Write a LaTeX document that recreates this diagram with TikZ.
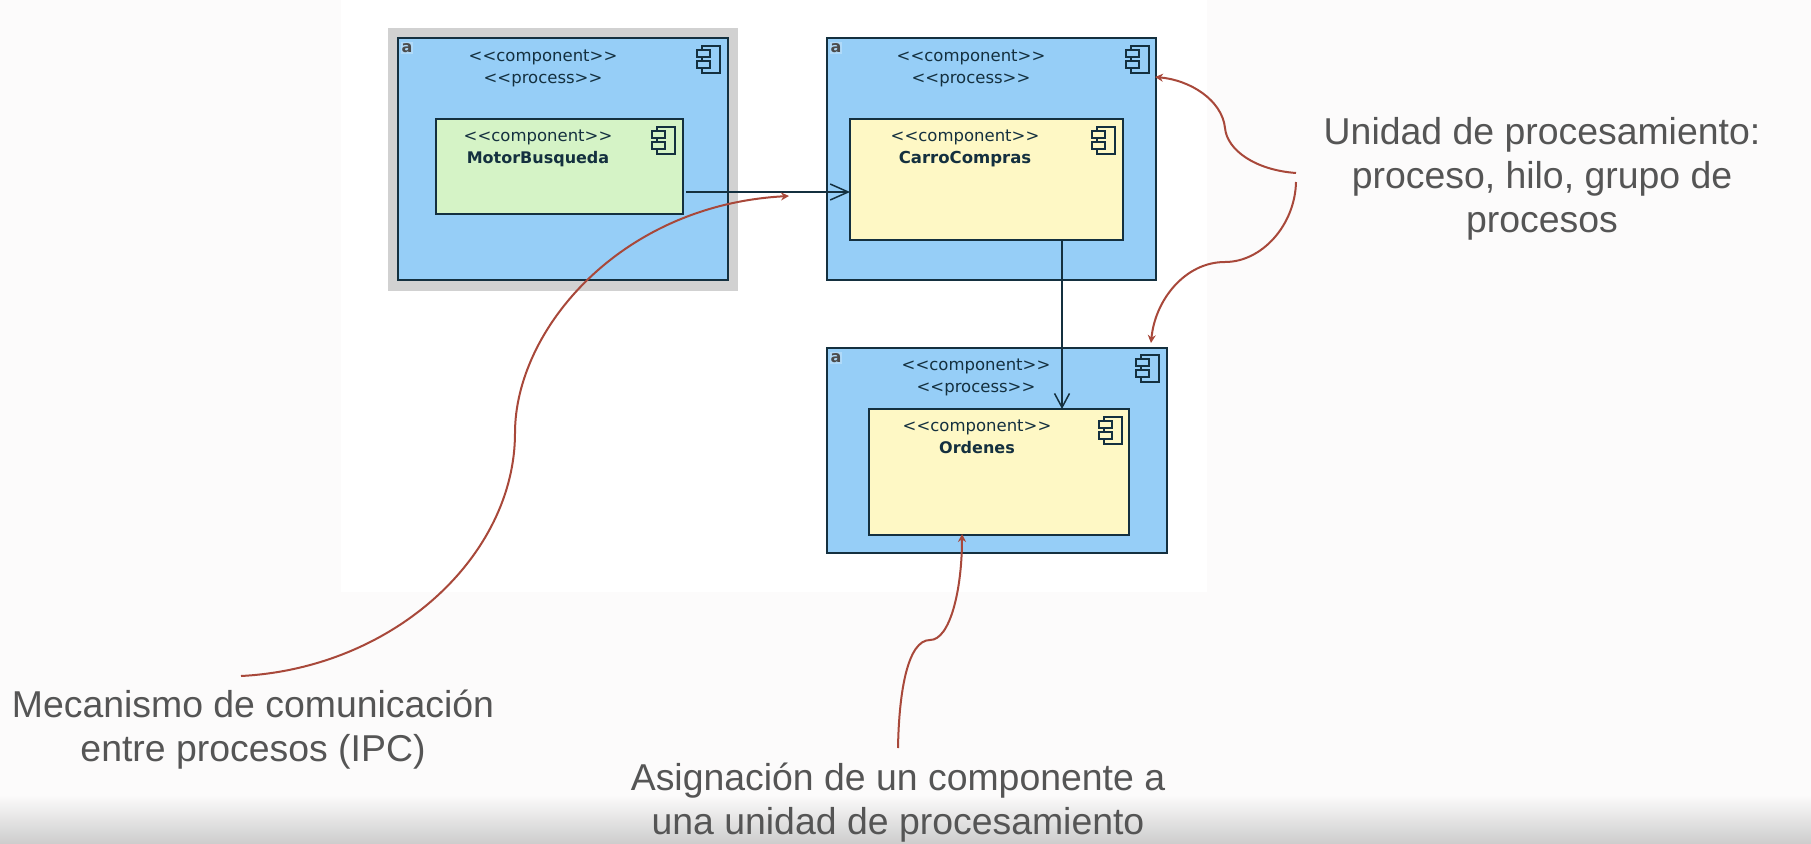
\documentclass[tikz,border=0pt]{standalone}
\usepackage{fontspec}
\newfontfamily\callfont{Liberation Sans}
\newfontfamily\umlfont{DejaVu Sans}
\usetikzlibrary{arrows.meta,positioning}
\definecolor{procblue}{HTML}{96CEF7}
\definecolor{compgreen}{HTML}{D5F3C6}
\definecolor{compyellow}{HTML}{FEF8C5}
\definecolor{umlink}{HTML}{14303F}
\definecolor{notered}{HTML}{A8483A}
\definecolor{notegrey}{HTML}{555555}
\definecolor{paper}{HTML}{FCFBFB}
\tikzset{%
    box/.style={rectangle,draw=umlink,line width=1.8pt,inner sep=0pt,outer sep=0pt,anchor=north west},
    proc/.style={box,fill=procblue},
    green/.style={box,fill=compgreen},
    yellow/.style={box,fill=compyellow},
    stereo/.style={inner sep=0pt,text=umlink,align=center,font=\umlfont\fontsize{16.5}{22}\selectfont},
    tag/.style={inner sep=1pt,text=black!70,fill=white!25!procblue,font=\umlfont\bfseries\fontsize{16}{16}\selectfont},
    note/.style={inner sep=0pt,text=notegrey,align=center,font=\callfont\fontsize{37.4}{44}\selectfont},
    link/.style={draw=umlink,line width=1.8pt,-{Straight Barb[length=18pt,width=16pt,line width=1.5pt]}},
    linkv/.style={draw=umlink,line width=1.8pt,-{Straight Barb[length=14pt,width=15pt,line width=1.5pt]}},
    ptr/.style={draw=notered,line width=2pt,-{Stealth[length=8pt,width=8pt]}},
    pics/cmpicon/.style={code={
        \draw[umlink,line width=1.4pt] (-18,0) rectangle (0,27);
        \draw[umlink,line width=1.4pt,fill=#1] (-23,4) rectangle (-10,11);
        \draw[umlink,line width=1.4pt,fill=#1] (-23,15) rectangle (-10,22);
    }}
}

\begin{document}
\begin{tikzpicture}[x=1pt,y=-1pt]
    \useasboundingbox (0,0) rectangle (1811,843);
    \fill[paper] (0,0) rectangle (1811,843);
    \fill[white] (341,0) rectangle (1207,592);
    \shade[top color=paper,bottom color=black!25] (0,795) rectangle (1811,858);
    %%%%%
    \node[rectangle,fill=black!18,minimum width=350pt,minimum height=263pt,anchor=north west] (sel) at (388,28) {};
    \node[proc,minimum width=330pt,minimum height=242pt] (pr-1) at (398,38) {};
    \node[proc,minimum width=329pt,minimum height=242pt] (pr-2) at (827,38) {};
    \node[proc,minimum width=340pt,minimum height=205pt] (pr-3) at (827,348) {};
    \node[green,minimum width=247pt,minimum height=95pt] (mb) at (436,119) {};
    \node[yellow,minimum width=273pt,minimum height=121pt] (cc) at (850,119) {};
    \node[yellow,minimum width=260pt,minimum height=126pt] (ord) at (869,409) {};
    %%%%%
    \node[tag] (a-1) at (407,48) {a};
    \node[tag] (a-2) at (836,48) {a};
    \node[tag] (a-3) at (836,358) {a};
    \node[stereo] (pr-1-txt) at (543,68) {<{}<component>{}>\\<{}<process>{}>};
    \node[stereo] (pr-2-txt) at (971,68) {<{}<component>{}>\\<{}<process>{}>};
    \node[stereo] (pr-3-txt) at (976,377) {<{}<component>{}>\\<{}<process>{}>};
    \node[stereo] (mb-txt) at (538,148) {<{}<component>{}>\\\textbf{\fontsize{16}{22}\selectfont MotorBusqueda}};
    \node[stereo] (cc-txt) at (965,148) {<{}<component>{}>\\\textbf{\fontsize{16.5}{22}\selectfont CarroCompras}};
    \node[stereo] (ord-txt) at (977,437) {<{}<component>{}>\\\textbf{\fontsize{16}{22}\selectfont Ordenes}};
    \pic at (720,46) {cmpicon=procblue};
    \pic at (1149,46) {cmpicon=procblue};
    \pic at (1159,355) {cmpicon=procblue};
    \pic at (675,127) {cmpicon=compgreen};
    \pic at (1115,127) {cmpicon=compyellow};
    \pic at (1122,417) {cmpicon=compyellow};
    %%%%%
    \coordinate (mb-out) at (686,192);
    \coordinate (cc-drop) at (1062,240);
    \draw[link] (mb-out) -- (mb-out -| cc.west);
    \draw[linkv] (cc-drop) -- (cc-drop |- ord.north);
    %%%%%
    \node[note] (ipc) at (253,730) {Mecanismo de comunicaci\'on\\entre procesos (IPC)};
    \node[note] (asig) at (898,803) {Asignaci\'on de un componente a\\una unidad de procesamiento};
    \node[note] (unidad) at (1542,179) {Unidad de procesamiento:\\proceso, hilo, grupo de\\procesos};
    %%%%%
    \coordinate (ipc-tail) at (241,676);
    \coordinate (ipc-mid) at (515,433);
    \coordinate (ipc-head) at (789,196);
    \coordinate (asig-tail) at (898,748);
    \coordinate (asig-mid) at (930,640);
    \coordinate (asig-head) at (962,534);
    \coordinate (un-tail1) at (1296,173);
    \coordinate (un-mid1) at (1225,128);
    \coordinate (un-head1) at (1155,77);
    \coordinate (un-tail2) at (1296,182);
    \coordinate (un-mid2) at (1225,262);
    \coordinate (un-head2) at (1151,343);
    \draw[ptr] (ipc-tail) .. controls (395,668) and (515,555) .. (ipc-mid)
        .. controls (515,330) and (620,205) .. (ipc-head);
    \draw[ptr] (asig-tail) .. controls (899,690) and (908,640) .. (asig-mid)
        .. controls (950,640) and (962,590) .. (asig-head);
    \draw[ptr] (un-tail1) .. controls (1255,170) and (1227,150) .. (un-mid1)
        .. controls (1222,100) and (1190,80) .. (un-head1);
    \draw[ptr] (un-tail2) .. controls (1295,225) and (1262,262) .. (un-mid2)
        .. controls (1185,262) and (1155,300) .. (un-head2);
\end{tikzpicture}
\end{document}
